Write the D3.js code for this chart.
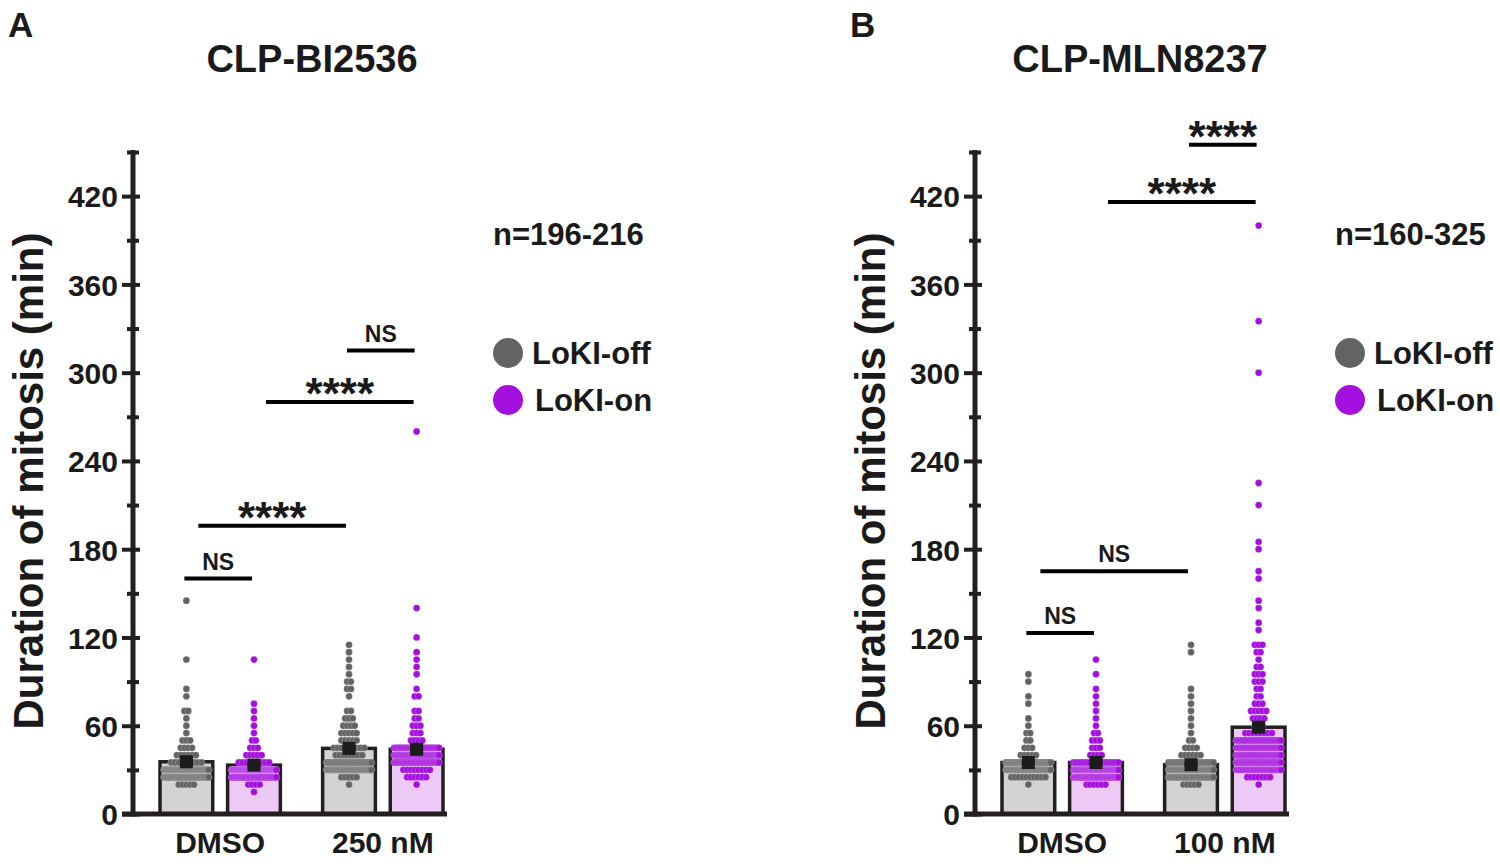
<!DOCTYPE html>
<html>
<head>
  <meta charset="utf-8">
  <title>Duration of mitosis</title>
  <script src="https://d3js.org/d3.v7.min.js"></script>
  <style>
    body { margin: 0; background: #fff; }
    svg text { font-family: "Liberation Sans", Arial, sans-serif; font-weight: bold; fill: #1a1a1a; }
  </style>
</head>
<body>
  <svg id="chart"></svg>
  <script>
    // categories
    const groupsA = ["DMSO", "250 nM"];
    const groupsB = ["DMSO", "100 nM"];
    const conditions = ["LoKI-off", "LoKI-on"];

    // y ticks
    const yTickLabels = [0, 60, 120, 180, 240, 300, 360, 420];
    const yMinorTicks = [30, 90, 150, 210, 270, 330, 390, 450];

    // dot rows: [minutes, number of cells]
    const aDmsoOff = [[20,5],[25,60],[30,70],[35,9],[40,6],[45,4],[50,3],[55,1],[60,1],[65,1],[70,2],[80,1],[85,1],[105,1],[145,1]];
    const aDmsoOn  = [[15,1],[20,4],[25,50],[30,90],[35,9],[40,5],[45,3],[50,2],[55,1],[60,1],[65,1],[70,1],[75,1],[105,1]];
    const a250Off  = [[20,1],[25,5],[30,60],[35,40],[40,8],[45,9],[50,5],[55,5],[60,4],[65,3],[70,2],[80,1],[85,2],[90,2],[95,1],[100,1],[105,1],[110,1],[115,1]];
    const a250On   = [[20,1],[25,6],[30,8],[35,40],[40,50],[45,30],[50,4],[55,3],[60,3],[65,2],[70,2],[80,2],[85,1],[95,1],[100,1],[105,1],[110,1],[120,1],[140,1],[260,1]];

    const bDmsoOff = [[20,1],[25,10],[30,60],[35,50],[40,5],[45,3],[50,2],[55,2],[60,1],[65,1],[75,1],[80,1],[90,1],[95,1]];
    const bDmsoOn  = [[20,6],[25,50],[30,60],[35,20],[40,4],[45,3],[50,3],[55,2],[60,1],[65,1],[70,1],[75,1],[80,1],[85,1],[95,1],[105,1]];
    const b100Off  = [[20,5],[25,40],[30,50],[35,30],[40,6],[45,4],[50,2],[55,1],[60,1],[65,1],[70,1],[75,1],[80,1],[85,1],[110,1],[115,1]];
    const b100On   = [[20,1],[25,7],[30,40],[35,40],[40,40],[45,35],[50,30],[55,8],[60,3],[65,4],[70,5],[75,3],[80,2],[85,2],[90,3],[95,3],[100,2],[105,1],[110,2],[115,3],[125,1],[130,1],[140,1],[145,1],[160,1],[165,1],[180,1],[185,1],[210,1],[225,1],[300,1],[335,1],[400,1]];

    // bar heights (mean) and SEM
    const meansA = [35.5, 33.2, 44.6, 44.0];
    const semsA  = [1.3, 1.0, 1.6, 1.8];
    const meansB = [35.0, 35.0, 33.5, 59.0];
    const semsB  = [1.0, 1.0, 1.0, 2.2];

    // significance brackets: bar index from, to, height (min), label
    const bracketsA = [[0, 1, 160, "NS"], [0, 2, 196, "****"], [1, 3, 280, "****"], [2, 3, 315, "NS"]];
    const bracketsB = [[0, 1, 123, "NS"], [0, 2, 165, "NS"], [1, 3, 416, "****"], [2, 3, 455, "****"]];

    const ink = "#231f20";
    const barFill = ["#d3d3d3", "#edcaf6"];
    const dotFill = ["#636363", "#a30fdc"];

    const svg = d3.select("#chart").attr("width", 1500).attr("height", 868);

    const y = d3.scaleLinear().domain([0, 450]).range([814, 152]);

    function drawPanel(p) {
      const g = svg.append("g").attr("transform", `translate(${p.left},0)`);

      const x0 = d3.scaleBand().domain(p.groups).range([27, 310]).paddingInner(0.26);
      const x1 = d3.scaleBand().domain(conditions).range([0, x0.bandwidth()]).paddingInner(0.22);
      const bw = x1.bandwidth();

      const bars = [];
      p.groups.forEach((grp, gi) => conditions.forEach((c, ci) => {
        const i = gi * 2 + ci;
        bars.push({ x: x0(grp) + x1(c), cx: x0(grp) + x1(c) + bw / 2, gi: gi, ci: ci,
                    mean: p.means[i], sem: p.sems[i], bins: p.bins[i] });
      }));

      // bars
      g.selectAll(".bar").data(bars).enter().append("rect")
        .attr("class", "bar")
        .attr("x", d => d.x)
        .attr("width", bw)
        .attr("y", d => y(d.mean))
        .attr("height", d => y(0) - y(d.mean))
        .attr("fill", d => barFill[d.ci])
        .attr("stroke", ink)
        .attr("stroke-width", 3.5);

      // dots, one row per value
      bars.forEach(b => {
        const pts = [];
        b.bins.forEach(([v, n]) => {
          const s = n > 1 ? Math.min(3.8, 45 / (n - 1)) : 0;
          for (let k = 0; k < n; k++) pts.push({ x: b.cx + (k - (n - 1) / 2) * s, v: v });
        });
        g.append("g").selectAll("circle").data(pts).enter().append("circle")
          .attr("cx", d => d.x)
          .attr("cy", d => y(d.v))
          .attr("r", 3.4)
          .attr("fill", dotFill[b.ci])
          .attr("stroke", "rgba(255,255,255,0.4)")
          .attr("stroke-width", 0.5);
      });

      // mean +/- SEM
      const m = g.selectAll(".mean").data(bars).enter().append("g").attr("class", "mean");
      m.append("rect")
        .attr("x", d => d.cx - 6.5).attr("width", 13)
        .attr("y", d => y(d.mean + d.sem) - 1).attr("height", d => y(d.mean - d.sem) - y(d.mean + d.sem) + 2)
        .attr("fill", "#1c1c1c");
      m.append("rect")
        .attr("x", d => d.cx - 6.5).attr("width", 13)
        .attr("y", d => y(d.mean) - 6.5).attr("height", 13)
        .attr("fill", "#1c1c1c");

      // y axis
      const yAxis = g.append("g")
        .call(d3.axisLeft(y).tickValues(yTickLabels).tickSize(11).tickPadding(4));
      yAxis.select(".domain").remove();
      yAxis.selectAll(".tick line").attr("x1", 7).attr("stroke", ink).attr("stroke-width", 4);
      yAxis.selectAll(".tick text").style("font-size", "30px").attr("dy", "0.36em");

      const yMinor = g.append("g")
        .call(d3.axisLeft(y).tickValues(yMinorTicks).tickSize(6).tickFormat(""));
      yMinor.select(".domain").remove();
      yMinor.selectAll(".tick line").attr("x1", 6).attr("stroke", ink).attr("stroke-width", 4);

      g.append("line").attr("x1", 0).attr("x2", 0).attr("y1", y(0) + 2.5).attr("y2", y(450) - 2)
        .attr("stroke", ink).attr("stroke-width", 5);

      // x axis
      const xAxis = g.append("g").attr("transform", `translate(0,${y(0)})`)
        .call(d3.axisBottom(x0).tickSize(0).tickPadding(18));
      xAxis.select(".domain").remove();
      xAxis.selectAll(".tick text").style("font-size", "30px");
      g.append("line").attr("x1", -11).attr("x2", 314).attr("y1", y(0)).attr("y2", y(0))
        .attr("stroke", ink).attr("stroke-width", 5);

      // significance
      p.brackets.forEach(([a, b, v, t]) => {
        const cross = bars[a].gi !== bars[b].gi;
        const xa = bars[a].cx + (cross ? 12 : -2), xb = bars[b].cx + (cross ? -3 : -2);
        g.append("line").attr("x1", xa).attr("x2", xb).attr("y1", y(v)).attr("y2", y(v))
          .attr("stroke", "#000").attr("stroke-width", 4);
        const star = t !== "NS";
        g.append("text")
          .attr("x", (xa + xb) / 2)
          .attr("y", y(v) + (star ? 7 : -9))
          .attr("text-anchor", "middle")
          .style("font-size", star ? "44px" : "23px")
          .text(t);
      });

      // axis title
      g.append("text")
        .attr("transform", "rotate(-90)")
        .attr("x", -481).attr("y", -90)
        .attr("text-anchor", "middle")
        .style("font-size", "42px")
        .text("Duration of mitosis (min)");

      // panel letter and title
      g.append("text").attr("x", -125).attr("y", 37).style("font-size", "35px").text(p.letter);
      g.append("text").attr("x", p.titleX).attr("y", 72).attr("text-anchor", "middle")
        .style("font-size", "38px").text(p.title);

      // n and legend
      g.append("text").attr("x", 360).attr("y", 245).style("font-size", "31px").text(p.nLabel);
      conditions.forEach((c, ci) => {
        const ly = 353 + ci * 47;
        g.append("circle").attr("cx", 375).attr("cy", ly).attr("r", 15).attr("fill", dotFill[ci]);
        g.append("text").attr("x", 399 + ci * 3).attr("y", ly + 11).style("font-size", "31px").text(c);
      });
    }

    drawPanel({ left: 133, letter: "A", title: "CLP-BI2536", titleX: 179, groups: groupsA,
                bins: [aDmsoOff, aDmsoOn, a250Off, a250On], means: meansA, sems: semsA,
                brackets: bracketsA, nLabel: "n=196-216" });
    drawPanel({ left: 975, letter: "B", title: "CLP-MLN8237", titleX: 165, groups: groupsB,
                bins: [bDmsoOff, bDmsoOn, b100Off, b100On], means: meansB, sems: semsB,
                brackets: bracketsB, nLabel: "n=160-325" });
  </script>
</body>
</html>
